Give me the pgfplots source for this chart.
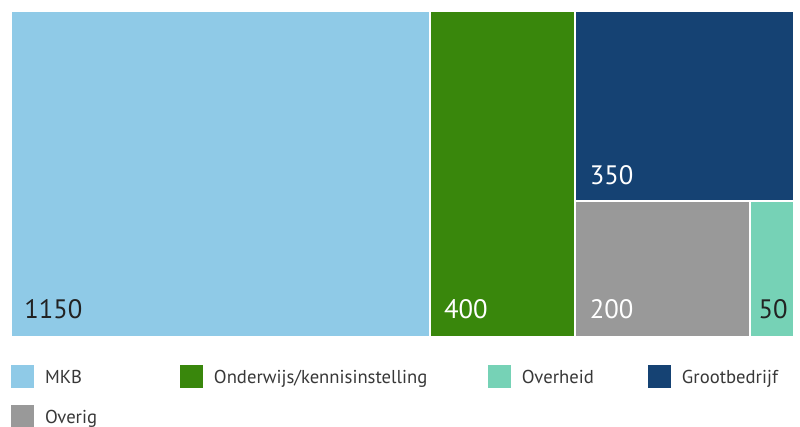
\documentclass[border=0pt]{standalone}
\usepackage{fontspec}
\setmainfont{PT Sans}
\usepackage{pgfplots}
\pgfplotsset{compat=1.18}
\definecolor{cMKB}{HTML}{8FCAE7}
\definecolor{cOnd}{HTML}{39870C}
\definecolor{cOvh}{HTML}{76D2B6}
\definecolor{cGroot}{HTML}{154273}
\definecolor{cOverig}{HTML}{999999}
\definecolor{cTxt}{HTML}{222222}
\begin{document}
\begin{tikzpicture}
\path[use as bounding box] (0,0) rectangle (600pt,-320.25pt);
\begin{axis}[
  at={(8.25pt,-8.25pt)}, anchor=north west,
  scale only axis, width=587.25pt, height=244.5pt,
  xmin=0, xmax=2150, ymin=0, ymax=600,
  hide axis, clip=false,
  legend columns=4,
  legend cell align=left,
  legend image code/.code={\path[#1,draw=none] (0pt,-7pt) rectangle (17.25pt,10.25pt);},
  legend style={at={(axis description cs:0,0)}, anchor=north west, yshift=-21pt,
    draw=none, fill=none, inner sep=0pt, outer sep=0pt,
    nodes={inner sep=0pt, outer sep=0pt, text height=10pt, text depth=3pt,
      font=\fontsize{14pt}{16pt}\selectfont, text=cTxt!90!white},
    column sep=0pt, row sep=12.75pt,
    /tikz/every odd column/.append style={column sep=8.25pt}},
]
\addplot[fill=cMKB, draw=white, line width=1.5pt] coordinates {(0,0) (1150,0) (1150,600) (0,600)} -- cycle;
\addlegendentry{\makebox[101.25pt][l]{MKB}}
\addplot[fill=cOnd, draw=white, line width=1.5pt] coordinates {(1150,0) (1550,0) (1550,600) (1150,600)} -- cycle;
\addlegendentry{\makebox[205.5pt][l]{Onderwijs/kennisinstelling}}
\addplot[fill=cOvh, draw=white, line width=1.5pt] coordinates {(2030,0) (2150,0) (2150,250) (2030,250)} -- cycle;
\addlegendentry{\makebox[94.5pt][l]{Overheid}}
\addplot[fill=cGroot, draw=white, line width=1.5pt] coordinates {(1550,250) (2150,250) (2150,600) (1550,600)} -- cycle;
\addlegendentry{Grootbedrijf}
\addplot[fill=cOverig, draw=white, line width=1.5pt] coordinates {(1550,0) (2030,0) (2030,250) (1550,250)} -- cycle;
\addlegendentry{\makebox[101.25pt][l]{Overig}}
\begin{scope}[every node/.style={anchor=base west, inner sep=0pt, font=\fontsize{20pt}{24pt}\selectfont}]
\node[text=cTxt, xshift=9.75pt, yshift=13.5pt] at (axis cs:0,0) {1150};
\node[text=white, xshift=10.5pt, yshift=13.5pt] at (axis cs:1150,0) {400};
\node[text=white, xshift=10.5pt, yshift=12.75pt] at (axis cs:1550,250) {350};
\node[text=white, xshift=10.5pt, yshift=13.5pt] at (axis cs:1550,0) {200};
\node[text=cTxt, xshift=6pt, yshift=13.5pt] at (axis cs:2030,0) {50};
\end{scope}
\end{axis}
\end{tikzpicture}
\end{document}
